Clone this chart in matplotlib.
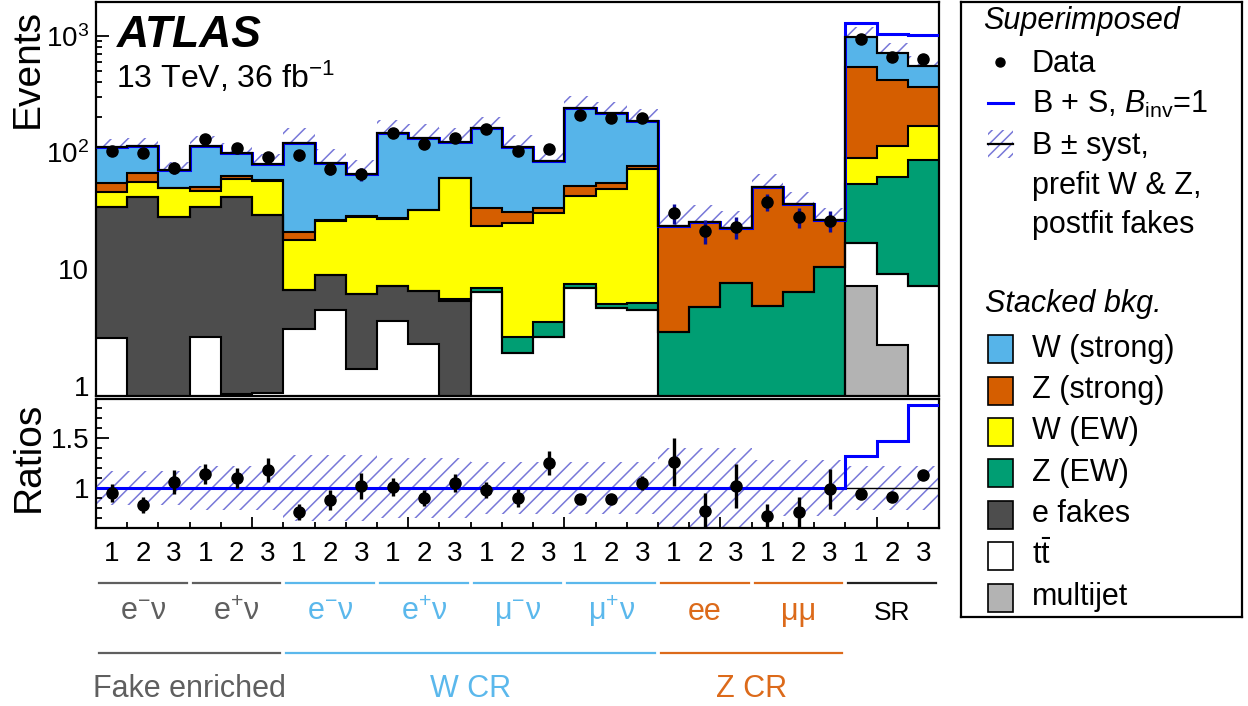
import numpy as np
import matplotlib
matplotlib.use('Agg')
import matplotlib.pyplot as plt
import matplotlib.transforms as mtrans
from matplotlib.patches import Rectangle
from matplotlib.lines import Line2D
from matplotlib.ticker import FixedLocator, FixedFormatter, NullFormatter, LogLocator, MultipleLocator

plt.rcParams['font.family'] = ['Liberation Sans', 'DejaVu Sans']
plt.rcParams['mathtext.fontset'] = 'custom'
plt.rcParams['mathtext.rm'] = 'Liberation Sans'
plt.rcParams['mathtext.it'] = 'Liberation Sans:italic'
plt.rcParams['mathtext.bf'] = 'Liberation Sans:bold'
plt.rcParams['hatch.linewidth'] = 1.1
HATCH = '#7878d8'
plt.rcParams['hatch.color'] = HATCH

# ---------------- data ----------------
bin_labels = ['1', '2', '3'] * 9
sub_labels = ['e$^{-}$ν', 'e$^{+}$ν', 'e$^{-}$ν', 'e$^{+}$ν', 'μ$^{-}$ν', 'μ$^{+}$ν', 'ee', 'μμ', 'SR']
region_labels = ['Fake enriched', 'W CR', 'Z CR']

multijet = [0, 0, 0, 0, 0, 0, 0, 0, 0, 0, 0, 0, 0, 0, 0, 0, 0, 0, 0, 0, 0, 0, 0, 0, 7.2, 2.25, 0]
ttbar = [2.6, 0.5, 0.3, 2.64, 0.85, 0.87, 3.1, 4.5, 1.39, 3.6, 2.3, 0.3,
         6.4, 1.9, 2.65, 6.9, 4.7, 4.5, 0, 0, 0, 0, 0, 0, 9.5, 6.9, 7.2]
e_fakes = [31.8, 41.4, 27.9, 31.8, 41.0, 28.3, 3.6, 4.35, 4.7, 3.6, 4.25, 5.1,
           0, 0, 0, 0, 0, 0, 0, 0, 0, 0, 0, 0, 0, 0, 0]
z_ew = [0, 0, 0, 0, 0, 0, 0, 0, 0, 0, 0, 0.19,
        0.58, 0.74, 0.91, 0.56, 0.39, 0.63, 2.88, 4.78, 7.59, 4.85, 6.39, 10.4, 37.1, 53.1, 79.2]
w_ew = [11.8, 14.4, 21.2, 12.8, 17.1, 28.0, 11.1, 17.2, 22.1, 19.8, 25.6, 54.6,
        16.5, 22.4, 26.9, 35.1, 43.6, 66.8, 0, 0, 0, 0, 0, 0, 35.5, 52.4, 82.6]
z_strong = [9.0, 10.2, 0.5, 3.8, 4.0, 0.8, 2.9, 0.3, 0.3, 0.3, 0.3, 0.5,
            9.8, 5.7, 2.8, 9.5, 6.5, 5.3, 20.7, 20.8, 14.9, 46.2, 29.6, 16.0, 456, 304, 198]
w_strong = [56.8, 48.1, 21.1, 63.6, 37.0, 21.4, 100.9, 54.6, 36.7, 118.7, 101.5, 63.3,
            128.2, 81.6, 51.4, 188, 161.8, 110.4, 0, 0, 0, 0, 0, 0, 428, 289, 185]
signal = [0] * 24 + [309, 330, 459]

data = [103, 98.6, 74.3, 131, 109, 92.3, 95.3, 71.9, 65.6, 147, 118.5, 132.5,
        159, 103, 107.4, 210.5, 197, 197, 30.2, 21.3, 23.2, 38, 28.2, 26.1, 940, 664, 631]
ratio = [0.947, 0.83, 1.06, 1.14, 1.10, 1.18, 0.76, 0.88, 1.02, 1.01, 0.90, 1.05,
         0.98, 0.90, 1.25, 0.89, 0.89, 1.05, 1.26, 0.77, 1.02, 0.72, 0.76, 0.99, 0.94, 0.91, 1.13]
ratio_err = [0.09, 0.08, 0.12, 0.10, 0.10, 0.12, 0.08, 0.10, 0.13, 0.09, 0.08, 0.09,
             0.08, 0.09, 0.12, 0.05, 0.05, 0.07, 0.24, 0.18, 0.22, 0.12, 0.15, 0.20, 0.03, 0.03, 0.03]
syst_rel = [0.17, 0.17, 0.17, 0.22, 0.22, 0.22, 0.33, 0.33, 0.33, 0.30, 0.30, 0.30,
            0.26, 0.26, 0.26, 0.26, 0.26, 0.26, 0.40, 0.40, 0.40, 0.28, 0.28, 0.28, 0.22, 0.22, 0.22]

# ---------------- styles ----------------
C_WS, C_ZS, C_WEW, C_ZEW = '#56B4E9', '#D55E00', '#FFFF00', '#009E73'
C_FAKE, C_TT, C_MJ = '#4D4D4D', '#FFFFFF', '#B3B3B3'
GRAY_T, BLUE_T, ORNG_T = '#5f5f5f', '#5BB8EC', '#DC6A1A'

W, H = 1248, 706
fig = plt.figure(figsize=(W / 100, H / 100), dpi=100)

def fx(x):
    return x / W

def fy(y):
    return 1 - y / H

ax = fig.add_axes([fx(96), fy(396), (939 - 96) / W, (396 - 2) / H])
axr = fig.add_axes([fx(96), fy(528), (939 - 96) / W, (528 - 399) / H])

n = len(bin_labels)
edges = np.arange(n + 1)
centers = edges[:-1] + 0.5
layers = [(multijet, C_MJ), (ttbar, C_TT), (e_fakes, C_FAKE), (z_ew, C_ZEW),
          (w_ew, C_WEW), (z_strong, C_ZS), (w_strong, C_WS)]

bottom = np.full(n, 1e-3)
for vals, col in layers:
    top = bottom + np.asarray(vals, float)
    ax.stairs(top, edges, baseline=bottom, fill=True, facecolor=col, edgecolor='none', lw=0, zorder=2)
    ax.stairs(top, edges, baseline=None, color='black', lw=1.5, zorder=3)
    bottom = top
B = bottom
S = np.asarray(signal, float)
syst = np.asarray(syst_rel)

ax.stairs(B * (1 + syst), edges, baseline=B * (1 - syst), fill=True, facecolor='none',
          edgecolor=HATCH, hatch='//', lw=0, zorder=1)
ax.stairs(B + S, edges, baseline=None, color='#0000ff', lw=2.2, zorder=3.5)
ax.stairs(B, edges, baseline=None, color='black', lw=1.5, zorder=4)

d = np.asarray(data)
d_err = np.asarray(ratio_err) / np.asarray(ratio) * d
ax.errorbar(centers, d, yerr=d_err, fmt='o', color='black', ms=8, ecolor='#0a0a9a',
            elinewidth=2.4, capsize=0, zorder=6)

ax.set_yscale('log')
ax.set_xlim(0, n)
ax.set_ylim(0.821, 1951)
ax.yaxis.set_major_locator(FixedLocator([1, 10, 100, 1000]))
ax.yaxis.set_major_formatter(FixedFormatter(['1', '10', '$10^{2}$', '$10^{3}$']))
ax.yaxis.set_minor_locator(LogLocator(base=10, subs=np.arange(2, 10)))
ax.yaxis.set_minor_formatter(NullFormatter())

# ratio panel
axr.stairs(1 + syst, edges, baseline=1 - syst, fill=True, facecolor='none',
           edgecolor=HATCH, hatch='//', lw=0, zorder=1)
axr.axhline(1, color='black', lw=1.0, zorder=2)
axr.stairs((B + S) / B, edges, baseline=None, color='#0000ff', lw=2.2, zorder=3)
axr.errorbar(centers, ratio, yerr=ratio_err, fmt='o', color='black', ms=8, ecolor='black',
             elinewidth=2.4, capsize=0, zorder=6)
axr.set_xlim(0, n)
axr.set_ylim(0.6, 1.89)
axr.yaxis.set_major_locator(FixedLocator([1, 1.5]))
axr.yaxis.set_major_formatter(FixedFormatter(['1', '1.5']))
axr.yaxis.set_minor_locator(MultipleLocator(0.1))

for a in (ax, axr):
    a.xaxis.set_major_locator(FixedLocator([0, 5, 10, 15, 20, 25]))
    a.xaxis.set_minor_locator(MultipleLocator(1))
    a.xaxis.set_major_formatter(NullFormatter())
    a.tick_params(axis='x', which='major', direction='in', length=8, width=1.3, top=False)
    a.tick_params(axis='x', which='minor', direction='in', length=4.5, width=1.3, top=False)
    a.tick_params(axis='y', which='major', direction='in', length=9, width=1.3, right=False,
                  labelsize=20, pad=5)
    a.tick_params(axis='y', which='minor', direction='in', length=4.5, width=1.3, right=False)
    for sp in a.spines.values():
        sp.set_linewidth(1.6)

# texts in main panel
fig.text(fx(117), fy(46.7), 'ATLAS', fontsize=32, fontweight='bold', style='italic', va='baseline')
fig.text(fx(116), fy(88.3), '13 TeV, 36 fb$^{-1}$', fontsize=23, va='baseline')
fig.text(fx(46), fy(9), 'Events', rotation=90, ha='right', va='top', fontsize=28)
fig.text(fx(47), fy(457), 'Ratios', rotation=90, ha='right', va='center', fontsize=28)

# bottom annotations
tr = mtrans.blended_transform_factory(axr.transData, fig.transFigure)
for i, lab in enumerate(bin_labels):
    axr.text(centers[i], fy(560.7), lab, transform=tr, ha='center', va='baseline',
             fontsize=20, clip_on=False)

sub_colors = [GRAY_T, GRAY_T, BLUE_T, BLUE_T, BLUE_T, BLUE_T, ORNG_T, ORNG_T, '#222222']
for k, lab in enumerate(sub_labels):
    x0 = 3 * k
    axr.add_line(Line2D([x0 + 0.1, x0 + 2.9], [fy(583), fy(583)], transform=tr, color=sub_colors[k],
                        lw=1.6, clip_on=False))
    axr.text(x0 + 1.5, fy(620), lab, transform=tr, ha='center', va='baseline',
             fontsize=19 if lab == 'SR' else 22, color=sub_colors[k] if lab != 'SR' else 'black',
             clip_on=False)

region_span = [(0, 6), (6, 18), (18, 24)]
region_colors = [GRAY_T, BLUE_T, ORNG_T]
for lab, (a0, a1), col in zip(region_labels, region_span, region_colors):
    axr.add_line(Line2D([a0 + 0.1, a1 - 0.1], [fy(653), fy(653)], transform=tr, color=col,
                        lw=1.6, clip_on=False))
    axr.text((a0 + a1) / 2, fy(696.7), lab, transform=tr, ha='center', va='baseline',
             fontsize=22, color=col, clip_on=False)

# legend box (pixel coordinates)
lax = fig.add_axes([fx(961), fy(617), (1242 - 961) / W, (617 - 2) / H])
lax.set_xlim(961, 1242)
lax.set_ylim(617, 2)
lax.set_xticks([])
lax.set_yticks([])
for sp in lax.spines.values():
    sp.set_linewidth(1.6)

lax.text(983, 29, 'Superimposed', fontsize=22, style='italic', va='baseline')
lax.plot([1000], [62], 'o', color='black', ms=6.5)
lax.text(1032, 71.7, 'Data', fontsize=22, va='baseline')
lax.plot([988, 1013], [103, 103], color='#0000ff', lw=2.2)
lax.text(1032, 113, r'B + S, $\mathit{B}_{\mathrm{inv}}$=1', fontsize=22, va='baseline')
lax.add_patch(Rectangle((988, 130), 25, 28, facecolor='none', edgecolor=HATCH, hatch='///', lw=0))
lax.plot([988, 1013], [144, 144], color='black', lw=1.6)
lax.text(1032, 154, 'B ± syst,', fontsize=22, va='baseline')
lax.text(1032, 194, 'prefit W & Z,', fontsize=22, va='baseline')
lax.text(1032, 233, 'postfit fakes', fontsize=22, va='baseline')
lax.text(985, 311.7, 'Stacked bkg.', fontsize=22, style='italic', va='baseline')

leg_items = [('W (strong)', C_WS), ('Z (strong)', C_ZS), ('W (EW)', C_WEW), ('Z (EW)', C_ZEW),
             ('e fakes', C_FAKE), (r'$\mathrm{t\bar{t}}$', C_TT), ('multijet', C_MJ)]
for j, (lab, col) in enumerate(leg_items):
    base = 356.7 + 41.4 * j
    lax.add_patch(Rectangle((988, base - 21.5), 25, 28, facecolor=col, edgecolor='black', lw=1.2))
    lax.text(1032, base, lab, fontsize=22, va='baseline')

fig.savefig('out.png', dpi=100)
